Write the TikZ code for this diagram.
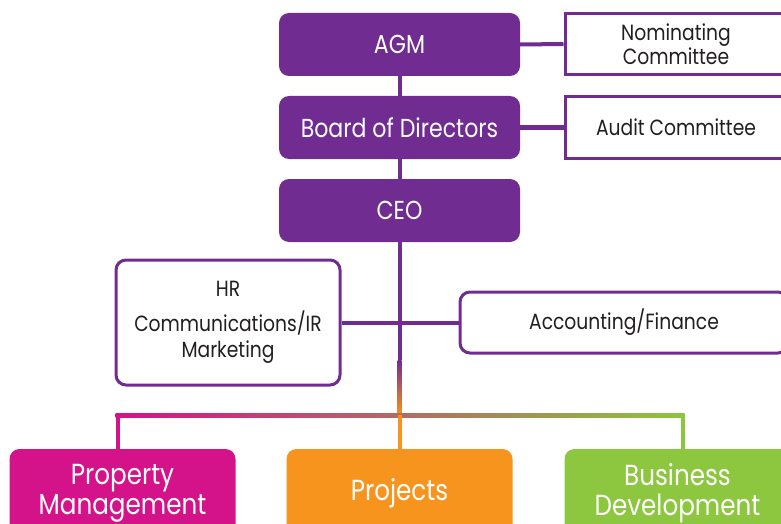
\documentclass[tikz,border=0pt]{standalone}
\usepackage{fontspec}
\setmainfont[FakeStretch=0.85]{Poppins}
\usepackage{tikz}
\usetikzlibrary{positioning}

\definecolor{orgpurple}{RGB}{112,44,145}
\definecolor{orgmagenta}{RGB}{212,18,138}
\definecolor{orgorange}{RGB}{247,148,30}
\definecolor{orggreen}{RGB}{141,198,63}
\definecolor{orgtext}{RGB}{35,31,32}

\begin{document}
\begin{tikzpicture}[
		x=1pt, y=-1pt,
		topbox/.style={
			rectangle,
			rounded corners=10pt,
			fill=orgpurple,
			text=white,
			minimum width=241pt,
			minimum height=63pt,
			font=\fontsize{26}{28}\selectfont,
			align=center
		},
		sidebox/.style={
			rectangle,
			draw=orgpurple,
			line width=3pt,
			fill=white,
			text=orgtext,
			minimum width=222pt,
			minimum height=61pt,
			font=\fontsize{22}{21}\selectfont,
			align=center
		},
		staffbox/.style={
			sidebox,
			rounded corners=10pt
		},
		unitbox/.style={
			rectangle,
			rounded corners=10pt,
			text=white,
			minimum width=226pt,
			minimum height=88pt,
			font=\fontsize{29}{30}\selectfont,
			align=center
		},
		link/.style={
			line width=4pt,
			draw=orgpurple
		}
	]
	\useasboundingbox (0,0) rectangle (781,524);
	\clip (0,0) rectangle (781,524);
	
	% top of the chart
	\node[topbox] (agm) at (399.5,44.5) {AGM};
	\node[topbox] (board) at (399.5,127.5) {Board of Directors};
	\node[topbox] (ceo) at (399.5,210.5) {CEO};
	\node[sidebox] (nom) at (676,44) {Nominating\\Committee};
	\node[sidebox] (audit) at (676,127.5) {Audit Committee};
	
	% staff functions
	\node[staffbox, minimum width=224pt, minimum height=125pt, font=\fontsize{22}{26}\selectfont] (hr) at (228,322.5) {HR\\[9pt]Communications/IR\\Marketing};
	\node[staffbox, minimum width=328pt] (acc) at (624,322.5) {Accounting/Finance};
	
	% business units
	\node[unitbox, fill=orgmagenta] (prop) at (122.5,493) {Property\\Management};
	\node[unitbox, fill=orgorange] (proj) at (399.5,493) {Projects};
	\node[unitbox, fill=orggreen] (busi) at (677.5,493) {Business\\Development};
	
	\coordinate (fade) at (399.5,360);
	\coordinate (split) at (399.5,415);
	
	\begin{scope}[on background layer/.try]
	\draw[link] (agm) -- (board);
	\draw[link] (board) -- (ceo);
	\draw[link] (agm.east) -- (nom.west);
	\draw[link] (board.east) -- (audit.west);
	\draw[link] (hr.east) -- (acc.west);
	\draw[link] (ceo.south) -- (fade);
	\end{scope}
	
	% colour blend down to the units
	\shade[top color=orgpurple, bottom color=orgorange] ([xshift=-2pt]fade) rectangle ([xshift=2pt]split);
	\shade[left color=orgmagenta, middle color=orgorange, right color=orggreen] (115.5,413) rectangle (684.5,417);
	\draw[line width=4pt, orgmagenta] (117.5,415) -- (prop.north -| 117.5,0);
	\draw[line width=4pt, orgorange] (split) -- (proj.north);
	\draw[line width=4pt, orggreen] (682.5,415) -- (busi.north -| 682.5,0);
	
	\end{tikzpicture}
\end{document}
